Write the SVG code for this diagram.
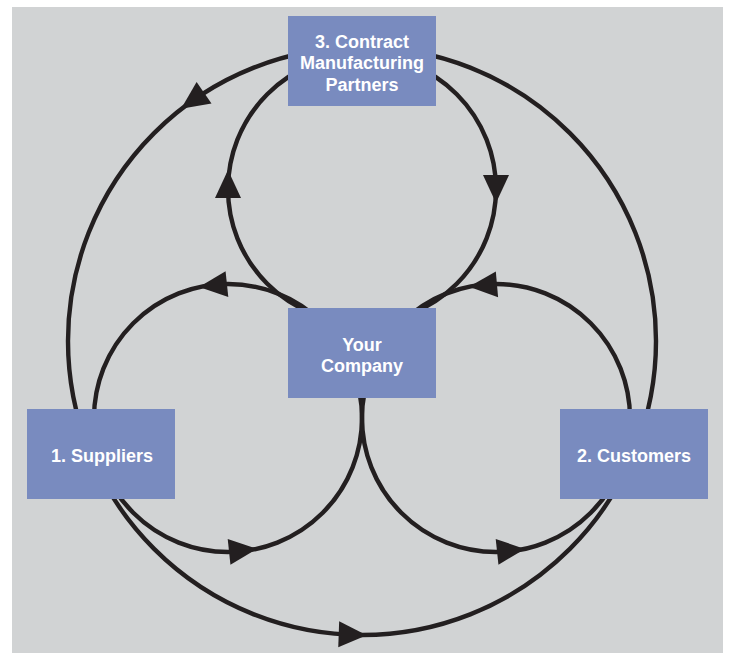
<svg xmlns="http://www.w3.org/2000/svg" xmlns:xlink="http://www.w3.org/1999/xlink" width="730" height="653" viewBox="0 0 730 653">
<style>
.bg{fill:#d1d3d4}
.ring{fill:none;stroke:#231f20;stroke-width:4.4}
.ah{fill:#231f20}
.box{fill:#798bbf}
.lbl{fill:#ffffff;font-family:"Liberation Sans",Arial,Helvetica,sans-serif;font-size:18px;font-weight:bold;text-anchor:middle}
</style>
<defs>
<polygon id="ah" class="ah" points="15,0 -13,-13 -13,13"/>
</defs>
<rect class="bg" x="12" y="7" width="711" height="646"/>
<g id="connectors">
<circle class="ring" cx="362" cy="341" r="294"/>
<circle class="ring" cx="362" cy="189" r="134"/>
<circle class="ring" cx="228" cy="418" r="134"/>
<circle class="ring" cx="496" cy="418" r="134"/>
<use xlink:href="#ah" href="#ah" transform="translate(193.4,100.2) rotate(145)"/>
<use xlink:href="#ah" href="#ah" transform="translate(351.7,634.8) rotate(2)"/>
<use xlink:href="#ah" href="#ah" transform="translate(228,185) rotate(-90)"/>
<use xlink:href="#ah" href="#ah" transform="translate(496,188) rotate(90)"/>
<use xlink:href="#ah" href="#ah" transform="translate(214,285.5) rotate(174)"/>
<use xlink:href="#ah" href="#ah" transform="translate(242,550.5) rotate(-6)"/>
<use xlink:href="#ah" href="#ah" transform="translate(484,285.5) rotate(175)"/>
<use xlink:href="#ah" href="#ah" transform="translate(510,550.5) rotate(-6)"/>
</g>
<g id="node-contract">
<rect class="box" x="288" y="16" width="148" height="90"/>
<text class="lbl" x="362" y="47.5">3. Contract</text>
<text class="lbl" x="362" y="69">Manufacturing</text>
<text class="lbl" x="362" y="90.5">Partners</text>
</g>
<g id="node-company">
<rect class="box" x="288" y="308" width="148" height="90"/>
<text class="lbl" x="362" y="350.5">Your</text>
<text class="lbl" x="362" y="371.5">Company</text>
</g>
<g id="node-suppliers">
<rect class="box" x="27" y="409" width="148" height="90"/>
<text class="lbl" x="102" y="462">1. Suppliers</text>
</g>
<g id="node-customers">
<rect class="box" x="560" y="409" width="148" height="90"/>
<text class="lbl" x="634" y="462">2. Customers</text>
</g>
</svg>
